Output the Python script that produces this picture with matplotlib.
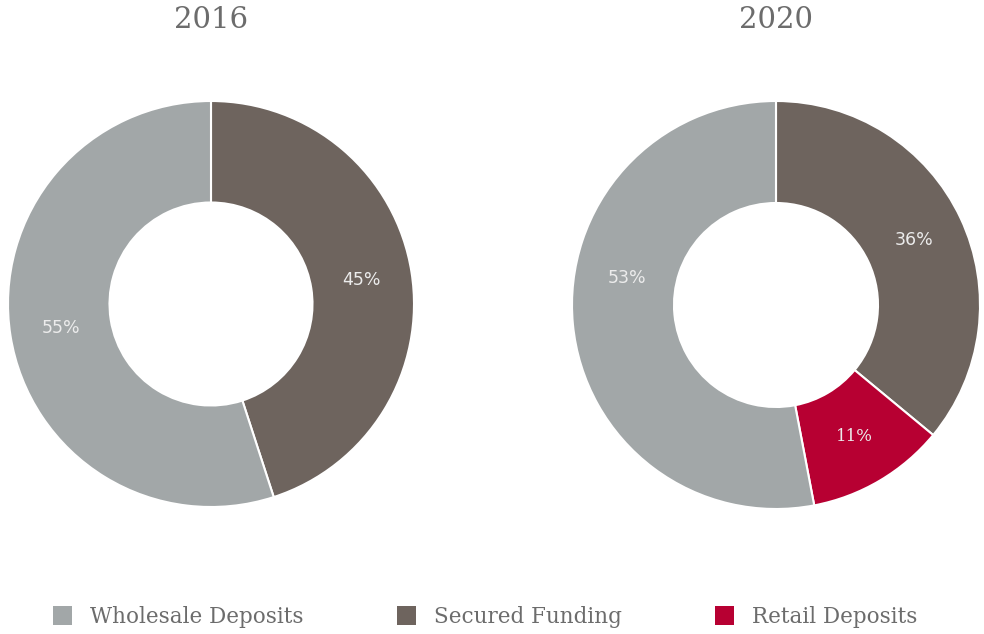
import matplotlib.pyplot as plt
from matplotlib.patches import Patch

categories = ["Wholesale Deposits", "Secured Funding", "Retail Deposits"]
colors = ["#a2a7a8", "#6e645e", "#b70032"]

years = ["2016", "2020"]
shares_2016 = [55, 45, 0]
shares_2020 = [53, 36, 11]

plt.rcParams['font.family'] = ['DejaVu Serif']

W, H = 984, 634
fig = plt.figure(figsize=(W / 100, H / 100), dpi=100)

# axes boxes in pixels: (center x, center y from top, radius)
boxes = [(211, 304, 203), (776, 305, 204)]


def donut(ax, shares):
    # draw clockwise from the top: Secured, Retail, Wholesale
    order = [i for i in [1, 2, 0] if shares[i] > 0]
    vals = [shares[i] for i in order]
    cols = [colors[i] for i in order]
    wedges, texts, autotexts = ax.pie(
        vals, colors=cols, startangle=90, counterclock=False, radius=1,
        autopct=lambda p: '%d%%' % round(p), pctdistance=0.75,
        wedgeprops=dict(width=0.5, edgecolor='white', linewidth=1.5),
        textprops=dict(color='#ececec', fontsize=12.5, family='DejaVu Sans'))
    ax.set_xlim(-1, 1)
    ax.set_ylim(-1, 1)
    ax.set_aspect('equal')
    for w in wedges:
        w.set_clip_on(False)
    for i, t in zip(order, autotexts):
        if i == 2:
            t.set_family('DejaVu Serif')
            t.set_fontsize(12)
    return dict(zip(order, autotexts))


for (cx, cy, r), year, shares in zip(boxes, years, [shares_2016, shares_2020]):
    ax = fig.add_axes([(cx - r) / W, (H - cy - r) / H, 2 * r / W, 2 * r / H])
    labels = donut(ax, shares)
    if year == "2020":
        # the wholesale label sits a bit above the slice middle in the original
        labels[0].set_position((-0.73, 0.13))
    fig.text(cx / W, 1 - 20 / H, year, ha='center', va='center',
             fontsize=21, color='#6c6c6c')

# legend: one entry per block, spread across the bottom
legend_x = [53, 397, 715]
for c, name, x in zip(colors, categories, legend_x):
    fig.legend([Patch(facecolor=c, edgecolor='none')], [name], loc='center left',
               bbox_to_anchor=(x / W, 1 - 617 / H), frameon=False, fontsize=15.5,
               labelcolor='#6c6c6c', borderpad=0, borderaxespad=0,
               handlelength=0.9, handleheight=0.95, handletextpad=0.8)

fig.savefig('out.png', dpi=100, facecolor='white')
